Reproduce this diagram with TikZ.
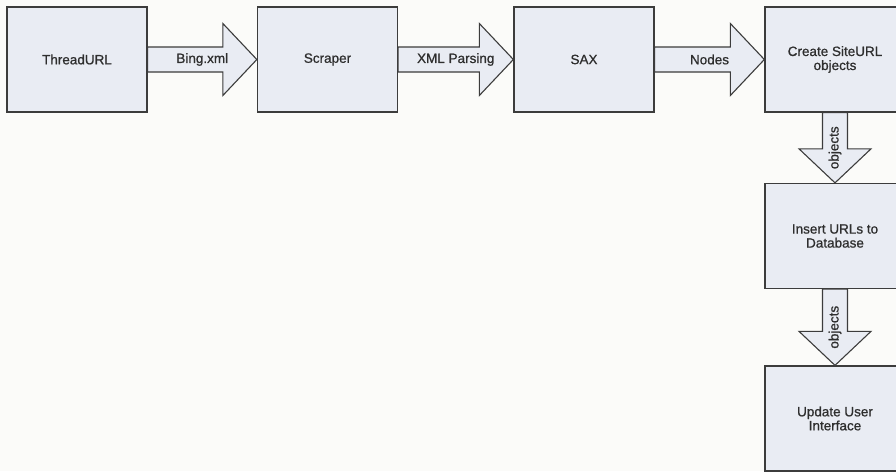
\documentclass[tikz,border=0pt]{standalone}
\usepackage{fontspec}
\setmainfont{Liberation Sans}
\newfontfamily\stagefont{Liberation Sans}[FakeBold=0.8]
\usetikzlibrary{calc}
\definecolor{paper}{HTML}{FBFBF9}
\definecolor{boxfill}{HTML}{E9ECF3}
\definecolor{boxline}{HTML}{3C3C3C}
\definecolor{textgray}{HTML}{2E2E2E}
\tikzset{
  stagebox/.style={draw=boxline,line width=1.3pt,fill=boxfill,minimum width=140pt,minimum height=105pt,
    inner sep=2pt,align=center,text=textgray,font=\stagefont\fontsize{13.5}{14}\selectfont},
  fatarrow/.style={draw=boxline,line width=1.1pt,fill=boxfill,line join=miter},
  arrowlabel/.style={inner sep=0pt,text=textgray,font=\stagefont\fontsize{13.5}{14}\selectfont}
}
\begin{document}
\begin{tikzpicture}[x=1pt,y=-1pt]

                \fill[paper] (0,0) rectangle (896,471); %background
                \useasboundingbox (0,0) rectangle (896,471);
                \clip (0,0) rectangle (896,471);

                \node[stagebox] (thread) at (77,59.5) {ThreadURL}; %top row
                \node[stagebox] (scraper) at (327.5,59.5) {Scraper};
                \node[stagebox] (sax) at (584,59.5) {SAX};
                \node[stagebox] (create) at (835,59.5) {Create SiteURL\\objects};
                \node[stagebox] (insert) at (835,236) {Insert URLs to\\Database}; %right column
                \node[stagebox] (update) at (835,418.5) {Update User\\Interface};

                \foreach \from/\to/\lbl in {thread/scraper/Bing.xml,scraper/sax/XML Parsing,sax/create/Nodes}
                  {
                  \draw[fatarrow] let \p1=(\from.east), \p2=(\to.west) in
                    (\x1,\y1+12.5) -- (\x2-34,\y1+12.5) -- (\x2-34,\y1+36) -- (\x2,\y1)
                    -- (\x2-34,\y1-36) -- (\x2-34,\y1-12.5) -- (\x1,\y1-12.5) -- cycle;
                  \node[arrowlabel] (lbl-\from) at ($(\from.east)!0.5!(\to.west)$) {\lbl};
                  }

                \foreach \from/\to in {create/insert,insert/update}
                  {
                  \draw[fatarrow] let \p1=(\from.south), \p2=(\to.north) in
                    (\x1-12.5,\y1) -- (\x1-12.5,\y2+34) -- (\x1-36,\y2+34) -- (\x1,\y2)
                    -- (\x1+36,\y2+34) -- (\x1+12.5,\y2+34) -- (\x1+12.5,\y1) -- cycle;
                  \node[arrowlabel,rotate=90] (lbl-\from) at ($(\from.south)!0.5!(\to.north)$) {objects};
                  }

\end{tikzpicture}
\end{document}
